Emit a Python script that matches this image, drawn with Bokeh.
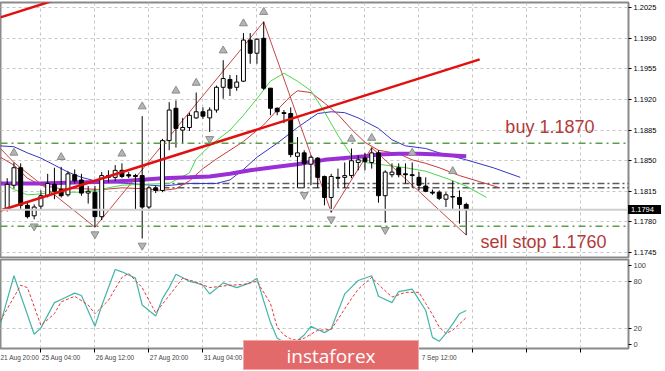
from bokeh.plotting import figure
from bokeh.models import Range1d, FixedTicker, Grid, Label, PrintfTickFormatter, Span, Div
from bokeh.layouts import column
from bokeh.embed import file_html
from bokeh.resources import INLINE

# ---------------- data (EURUSD H4) ----------------
opens = [1.1795, 1.1822, 1.1842, 1.1799, 1.1787, 1.1798, 1.1810, 1.1823, 1.1817, 1.1811,
         1.1834, 1.1828, 1.1813, 1.1814, 1.1786, 1.1833, 1.1831, 1.1839, 1.1834, 1.1833,
         1.1833, 1.1797, 1.1819, 1.1816, 1.1873, 1.1910, 1.1885, 1.1888, 1.1899, 1.1906,
         1.1899, 1.1908, 1.1934, 1.1943, 1.1934, 1.1941, 1.1988, 1.1973, 1.1990, 1.1933,
         1.1910, 1.1905, 1.1904, 1.1855, 1.1859, 1.1846, 1.1853, 1.1832, 1.1808, 1.1831,
         1.1831, 1.1833, 1.1848, 1.1853, 1.1848, 1.1859, 1.1810, 1.1834, 1.1842, 1.1835,
         1.1834, 1.1831, 1.1821, 1.1814, 1.1814, 1.1806, 1.1809, 1.1808, 1.1800]
closes = [1.1823, 1.1842, 1.1799, 1.1786, 1.1797, 1.1810, 1.1824, 1.1815, 1.1810, 1.1835,
          1.1827, 1.1813, 1.1815, 1.1786, 1.1833, 1.1831, 1.1839, 1.1832, 1.18325, 1.1832,
          1.1797, 1.1819, 1.1816, 1.1873, 1.1908, 1.1887, 1.1888, 1.1902, 1.1906, 1.1901,
          1.1908, 1.1934, 1.1944, 1.1933, 1.1940, 1.1988, 1.1973, 1.1989, 1.1933, 1.1910,
          1.1906, 1.1904, 1.1857, 1.1859, 1.1847, 1.1854, 1.1831, 1.1808, 1.1832, 1.1830,
          1.1833, 1.1850, 1.1851, 1.1849, 1.1859, 1.1810, 1.1837, 1.1837, 1.1834, 1.1834,
          1.1833, 1.1822, 1.1815, 1.1813, 1.1807, 1.1811, 1.18085, 1.1800, 1.1794]
highs = [1.1830, 1.1848, 1.1847, 1.1803, 1.1800, 1.1816, 1.1835, 1.1842, 1.1843, 1.1838,
         1.1840, 1.1835, 1.1821, 1.1821, 1.1837, 1.1839, 1.1845, 1.1847, 1.1837, 1.1835,
         1.1901, 1.1821, 1.1821, 1.1875, 1.1917, 1.1919, 1.1899, 1.1905, 1.1928, 1.1911,
         1.1911, 1.1936, 1.1965, 1.1948, 1.1948, 1.1996, 1.1996, 1.1990, 1.2009, 1.1933,
         1.1911, 1.1908, 1.1911, 1.1877, 1.1862, 1.1856, 1.1854, 1.1833, 1.1835, 1.1841,
         1.1848, 1.1864, 1.1856, 1.1859, 1.1865, 1.1862, 1.1839, 1.1847, 1.1847, 1.1847,
         1.1848, 1.1837, 1.1831, 1.1817, 1.1816, 1.1814, 1.1827, 1.1816, 1.1802]
lows = [1.1792, 1.1818, 1.1795, 1.1784, 1.1783, 1.1794, 1.1808, 1.1806, 1.1808, 1.1809,
        1.1824, 1.1810, 1.1801, 1.1774, 1.1782, 1.1825, 1.1827, 1.1830, 1.1830, 1.1794,
        1.1761, 1.1793, 1.1813, 1.1814, 1.1862, 1.1865, 1.1870, 1.1884, 1.1898, 1.1898,
        1.1883, 1.1905, 1.1921, 1.1924, 1.1930, 1.1940, 1.1961, 1.1961, 1.1931, 1.1902,
        1.1902, 1.1893, 1.1854, 1.1819, 1.1819, 1.1822, 1.1819, 1.1799, 1.1791, 1.1819,
        1.1819, 1.1830, 1.1839, 1.1839, 1.1841, 1.1802, 1.1779, 1.1831, 1.1831, 1.1824,
        1.1819, 1.1816, 1.1814, 1.1811, 1.1805, 1.1797, 1.1795, 1.1778, 1.1765]
bars = list(range(len(opens)))
last_price = 1.1794

# Alligator (jaw / teeth / lips) and slow MA
jaw_bars = [-1, 1, 3, 5, 7, 9, 11, 13, 15, 18, 23, 27, 31, 33, 35, 37, 40, 43, 46, 48,
            50, 52, 55, 57, 59, 62, 64, 68, 72, 76]
jaw_vals = [1.1867, 1.1866, 1.1859, 1.1853, 1.1845, 1.1837, 1.1831, 1.1827, 1.1825, 1.1824,
            1.1821, 1.1824, 1.1824, 1.1828, 1.1840, 1.1854, 1.1870, 1.1888, 1.1904, 1.1906,
            1.1905, 1.1899, 1.1887, 1.1874, 1.1867, 1.1864, 1.1859, 1.1851, 1.1842, 1.1831]
teeth_bars = [-1, 1, 3, 5, 8, 11, 14, 17, 20, 23, 25, 27, 29, 31, 33, 35, 38, 40, 42, 43,
              45, 47, 49, 51, 53, 55, 58, 60, 62, 64, 67, 70, 73]
teeth_vals = [1.1854, 1.1845, 1.1830, 1.1822, 1.1818, 1.1818, 1.1817, 1.1819, 1.1818, 1.1816,
              1.1818, 1.1827, 1.1841, 1.1852, 1.1862, 1.1872, 1.1891, 1.1908, 1.1924, 1.1930,
              1.1928, 1.1916, 1.1903, 1.1886, 1.1871, 1.1862, 1.1858, 1.1851, 1.1847, 1.1842,
              1.1833, 1.1826, 1.1819]
lips_bars = [-1, 1, 3, 5, 7, 9, 11, 13, 15, 17, 20, 24, 27, 28, 30, 33, 35, 37, 39, 41,
             43, 45, 47, 49, 51, 53, 56, 59, 62, 65, 68, 71]
lips_vals = [1.1827, 1.1817, 1.1811, 1.1812, 1.1815, 1.1814, 1.1814, 1.1816, 1.1819, 1.1822,
             1.1823, 1.1824, 1.1836, 1.1852, 1.1867, 1.1885, 1.1902, 1.1921, 1.1941, 1.1950,
             1.1941, 1.1930, 1.1906, 1.1879, 1.1856, 1.1848, 1.1845, 1.1842, 1.1838, 1.1830,
             1.1821, 1.1808]
ma_bars = [-1, 5, 10, 15, 18, 23, 27, 30, 33, 36, 38, 40, 43, 47, 50, 53, 55, 58, 61, 64, 66, 68]
ma_vals = [1.1824, 1.1824, 1.1825, 1.1826, 1.1827, 1.1830, 1.1831, 1.1832, 1.1835, 1.1839,
           1.1841, 1.1843, 1.1846, 1.1851, 1.1853, 1.1855, 1.1857, 1.1858, 1.1858, 1.1857,
           1.1856, 1.1855]

# ZigZag
zz_bars = [-1, 1, 13, 38, 48, 54, 68]
zz_vals = [1.1864, 1.1848, 1.1774, 1.2009, 1.1791, 1.1865, 1.1765]

# trend channel
trend_bars = [-1, 70]
trend_vals = [1.1793, 1.1966]
chan_vals = [1.2014, 1.2187]

# fractals
up_fractals = [1, 8, 17, 20, 25, 28, 32, 35, 38, 51, 54, 60, 66]
down_fractals = [4, 13, 20, 30, 44, 48, 56]

# levels
buy_level = 1.1870
stop_level = 1.1775
pivot_levels = [1.1824, 1.1819]
pivot_start = 23

# Stochastic
k_bars = [-1, 1, 4, 5, 7, 8, 10, 11, 13, 14, 16, 17, 18, 19, 20, 22, 23, 24, 25, 27,
          28, 29, 30, 32, 34, 36, 37, 38, 39, 40, 41, 42, 43, 44, 45, 46, 47, 48, 50, 52,
          54, 55, 57, 58, 60, 62, 63, 64, 65, 66, 67, 68]
k_vals = [26, 87, 13, 21, 53, 57, 65, 62, 23, 49, 95, 92, 88, 84, 50, 36, 58, 72, 89, 80,
          78, 75, 64, 78, 72, 78, 84, 55, 28, 8, 3, 2, 5, 12, 23, 19, 15, 20, 64, 81,
          87, 61, 53, 67, 70, 43, 9, 4, 14, 26, 39, 43]
d_bars = [-1, 2, 3, 5, 7, 8, 10, 12, 13, 15, 17, 18, 20, 22, 24, 26, 28, 30, 33, 35,
          37, 39, 40, 41, 42, 43, 44, 46, 48, 50, 51, 52, 54, 55, 57, 59, 61, 62, 63, 64,
          65, 66, 68]
d_vals = [30, 75, 72, 24, 39, 54, 61, 50, 39, 56, 85, 90, 72, 40, 62, 84, 79, 72, 75, 76,
          80, 52, 22, 12, 7, 5, 8, 18, 19, 45, 58, 70, 85, 76, 60, 66, 66, 52, 38, 22,
          14, 18, 34]

price_ticks = [1.1745, 1.1780, 1.1815, 1.1850, 1.1885, 1.1920, 1.1955, 1.1990, 1.2025]
stoch_ticks = [0, 20, 80, 100]
grid_bars = [-3, 5, 13, 21, 29, 37, 45, 53, 61, 69, 77, 85]
label_bars = [-3, 5, 13, 21, 29, 37, 45, 53, 61]
time_labels = ["21 Aug 20:00", "25 Aug 04:00", "26 Aug 12:00", "27 Aug 20:00", "31 Aug 04:00",
               "1 Sep 12:00", "2 Sep 20:00", "4 Sep 04:00", "7 Sep 12:00"]

# ---------------- styling ----------------
W = 665
X_RANGE = Range1d(-0.99, 92.04)
Y_MAIN = Range1d(1.17393, 1.2031)
AX_FONT = "Liberation Sans"
AX_SIZE = "7.5px"
GRID_C = "#c6c6c6"
TXT_C = "#b23a3a"
RB = 37
MAIN_H, MAIN_TOP, MAIN_BOT = 258, 2, 1
STOCH_H, STOCH_TOP, STOCH_BOT = 113, 1, 23

p = figure(width=W, height=MAIN_H, x_range=X_RANGE, y_range=Y_MAIN,
           output_backend="svg", toolbar_location=None, x_axis_location=None,
           y_axis_location="right", min_border_left=0, min_border_right=RB,
           min_border_top=MAIN_TOP, min_border_bottom=MAIN_BOT)
p.center = [r for r in p.center if not isinstance(r, Grid)]
p.outline_line_color = "#8a8a8a"
p.outline_line_width = 2
p.background_fill_color = "white"

ay = p.yaxis[0]
ay.ticker = FixedTicker(ticks=price_ticks)
ay.formatter = PrintfTickFormatter(format="%.4f")
ay.major_tick_out = 3
ay.major_tick_in = 0
ay.minor_tick_line_color = None
ay.axis_line_color = None
ay.major_label_standoff = 2
ay.major_label_text_font = AX_FONT
ay.major_label_text_font_size = AX_SIZE
ay.major_label_text_color = "black"

p.add_layout(Grid(dimension=0, ticker=FixedTicker(ticks=grid_bars), grid_line_color=GRID_C,
                  grid_line_dash="3 3"))
p.add_layout(Grid(dimension=1, ticker=FixedTicker(ticks=price_ticks), grid_line_color=GRID_C,
                  grid_line_dash="3 3"))

# current price line
p.add_layout(Span(location=last_price, dimension="width", line_color="#cfcfcf", line_width=2))
# levels
for lv in (buy_level, stop_level):
    p.add_layout(Span(location=lv, dimension="width", line_color="#5e9c4e", line_width=1.5,
                      line_dash="7 4 2 4"))
p.ray(x=[pivot_start] * len(pivot_levels), y=pivot_levels, length=0, angle=0,
      line_color="#5c5c5c", line_width=1.5, line_dash="7 3 2 3")

# indicators
p.line(jaw_bars, jaw_vals, line_color="#3535c8", line_width=1)
p.line(teeth_bars, teeth_vals, line_color="#c83a3a", line_width=1)
p.line(lips_bars, lips_vals, line_color="#4cd64c", line_width=1)
p.line(ma_bars, ma_vals, line_color="#9a2fd6", line_width=4)
p.line(zz_bars, zz_vals, line_color="#c44848", line_width=1)

# candles
p.segment(x0=bars, y0=lows, x1=bars, y1=highs, line_color="black", line_width=1)
inc = [i for i in bars if closes[i] > opens[i]]
dec = [i for i in bars if closes[i] <= opens[i]]
p.vbar(x=inc, width=0.58, bottom=[opens[i] for i in inc], top=[closes[i] for i in inc],
       fill_color="white", line_color="black", line_width=1)
p.vbar(x=dec, width=0.58, bottom=[closes[i] for i in dec], top=[opens[i] for i in dec],
       fill_color="black", line_color="black", line_width=1)

# trend channel
p.line(trend_bars, trend_vals, line_color="#e01010", line_width=2.5)
p.line(trend_bars, chan_vals, line_color="#e01010", line_width=2.5)

# fractals
p.scatter(up_fractals, [highs[b] + 0.0011 for b in up_fractals], marker="triangle",
          size=8, fill_color="#b4b4b4", line_color="#8c8c8c")
p.scatter(down_fractals, [lows[b] - 0.0008 for b in down_fractals],
          marker="inverted_triangle", size=8, fill_color="#b4b4b4", line_color="#8c8c8c")

p.add_layout(Label(x=73.8, y=1.1889, text="buy 1.1870", text_font="Liberation Sans",
                   text_font_size="18px", text_color=TXT_C, text_baseline="middle"))
p.add_layout(Label(x=70.1, y=1.17565, text="sell stop 1.1760", text_font="Liberation Sans",
                   text_font_size="18px", text_color=TXT_C, text_baseline="middle"))

# current price tag on the price scale (floating HTML element over the axis)
frame_h = MAIN_H - MAIN_TOP - MAIN_BOT
tag_top = MAIN_TOP + (Y_MAIN.end - last_price) / (Y_MAIN.end - Y_MAIN.start) * frame_h - 4.5
tag = Div(text="%.4f" % last_price, styles={
    "position": "absolute", "left": "%dpx" % (W - RB), "top": "%dpx" % round(tag_top),
    "width": "33px", "height": "9px", "background-color": "black", "color": "white",
    "font-family": AX_FONT, "font-size": "7.5px", "line-height": "9px",
    "padding-left": "3px", "z-index": "20", "overflow": "hidden"})
p.elements.append(tag)

# ---------------- stochastic ----------------
s = figure(width=W, height=STOCH_H, x_range=X_RANGE, y_range=Range1d(-5.1, 107.6),
           output_backend="svg", toolbar_location=None, y_axis_location="right",
           min_border_left=0, min_border_right=RB, min_border_top=STOCH_TOP,
           min_border_bottom=STOCH_BOT)
s.center = [r for r in s.center if not isinstance(r, Grid)]
s.outline_line_color = "#8a8a8a"
s.outline_line_width = 2

sy = s.yaxis[0]
sy.ticker = FixedTicker(ticks=stoch_ticks)
sy.major_tick_out = 3
sy.major_tick_in = 0
sy.minor_tick_line_color = None
sy.axis_line_color = None
sy.major_label_standoff = 2
sy.major_label_text_font = AX_FONT
sy.major_label_text_font_size = AX_SIZE

sx = s.xaxis[0]
label_pos = [b + 3 for b in label_bars]
sx.ticker = FixedTicker(ticks=label_pos, minor_ticks=grid_bars)
sx.major_label_overrides = {pos: txt for pos, txt in zip(label_pos, time_labels)}
sx.major_tick_line_color = None
sx.major_tick_out = 3
sx.major_tick_in = 0
sx.minor_tick_line_color = "black"
sx.minor_tick_out = 4
sx.minor_tick_in = 0
sx.axis_line_color = None
sx.major_label_standoff = 1
sx.major_label_text_font = AX_FONT
sx.major_label_text_font_size = "6.5px"

s.add_layout(Grid(dimension=0, ticker=FixedTicker(ticks=grid_bars), grid_line_color=GRID_C,
                  grid_line_dash="3 3"))
s.add_layout(Grid(dimension=1, ticker=FixedTicker(ticks=[20, 80]), grid_line_color=GRID_C,
                  grid_line_dash="3 3"))

s.line(k_bars, k_vals, line_color="#45b5a8", line_width=1.2)
s.line(d_bars, d_vals, line_color="#e03a3a", line_width=1, line_dash="3 2")

# watermark (floating HTML element over the stochastic panel and the time scale)
wm = Div(text="instaforex", styles={
    "position": "absolute", "left": "243px", "top": "82px", "width": "176px",
    "height": "30px", "background-color": "#e36a6a", "border": "1px solid #f2a8a8",
    "color": "white", "font-family": "Open Sans", "font-size": "19px",
    "line-height": "30px", "text-align": "center", "z-index": "20", "overflow": "hidden"})
s.elements.append(wm)

layout = column(p, s)
open("out.html", "w").write(file_html(layout, INLINE))
